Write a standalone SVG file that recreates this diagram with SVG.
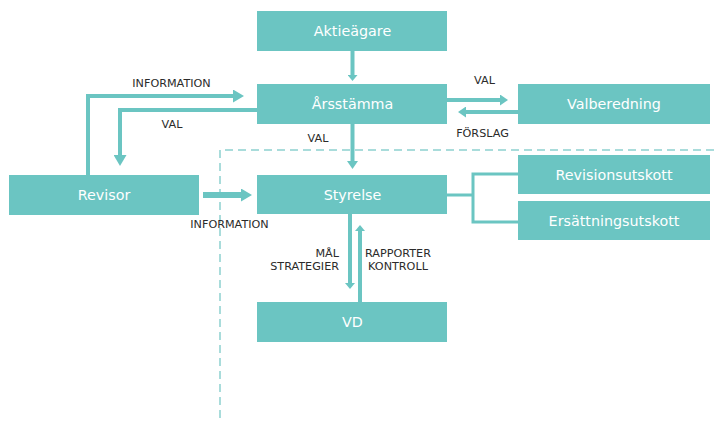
<svg xmlns="http://www.w3.org/2000/svg" width="714" height="421" viewBox="0 0 714 421">
<style>
.box{fill:#6bc5c2;}
.bt{font-family:"DejaVu Sans","Liberation Sans",sans-serif;font-size:14.3px;fill:#ffffff;text-anchor:middle;}
.lb{font-family:"DejaVu Sans","Liberation Sans",sans-serif;font-size:11.2px;fill:#2b2b2b;}
.c{fill:none;stroke:#6bc5c2;stroke-linejoin:miter;}
.dash{fill:none;stroke:#a9dcdb;stroke-width:2;stroke-dasharray:8 5;}
</style>
<defs>
<marker id="s" viewBox="0 0 6 10" refX="0" refY="5" markerWidth="6" markerHeight="10" markerUnits="userSpaceOnUse" orient="auto"><path d="M0,0 L6,5 L0,10 Z" fill="#6bc5c2"/></marker>
<marker id="m" viewBox="0 0 8 11" refX="0" refY="5.5" markerWidth="8" markerHeight="11" markerUnits="userSpaceOnUse" orient="auto"><path d="M0,0 L8,5.5 L0,11 Z" fill="#6bc5c2"/></marker>
<marker id="l" viewBox="0 0 11 13" refX="0" refY="6.5" markerWidth="11" markerHeight="13" markerUnits="userSpaceOnUse" orient="auto"><path d="M0,0 L11,6.5 L0,13 Z" fill="#6bc5c2"/></marker>
</defs>
<rect width="714" height="421" fill="#ffffff"/>
<path class="dash" d="M714,150 H220 V418"/>
<g id="connectors">
<path class="c" stroke-width="4" d="M352.5,51 V75" marker-end="url(#s)"/>
<path class="c" stroke-width="4" d="M88,175 V96 H233" marker-end="url(#l)"/>
<path class="c" stroke-width="4" d="M258,110 H120 V155" marker-end="url(#l)"/>
<path class="c" stroke-width="4" d="M352.5,124 V161" marker-end="url(#m)"/>
<path class="c" stroke-width="6" d="M203,195 H241" marker-end="url(#l)"/>
<path class="c" stroke-width="4" d="M447,100 H500" marker-end="url(#m)"/>
<path class="c" stroke-width="4" d="M518,112 H466" marker-end="url(#m)"/>
<path class="c" stroke-width="3" d="M447,195 H473 M518,174 H473 V222 H518"/>
<path class="c" stroke-width="4" d="M350,214 V283" marker-end="url(#s)"/>
<path class="c" stroke-width="4" d="M360,302 V231" marker-end="url(#s)"/>
<text class="lb" x="171.5" y="87" text-anchor="middle">INFORMATION</text>
<text class="lb" x="172" y="128" text-anchor="middle">VAL</text>
<text class="lb" x="318" y="142" text-anchor="middle">VAL</text>
<text class="lb" x="229.5" y="228" text-anchor="middle">INFORMATION</text>
<text class="lb" x="484.5" y="84" text-anchor="middle">VAL</text>
<text class="lb" x="482.5" y="137" text-anchor="middle">FÖRSLAG</text>
<text class="lb" x="339" y="257" text-anchor="end">MÅL</text>
<text class="lb" x="339" y="270" text-anchor="end">STRATEGIER</text>
<text class="lb" x="398" y="257" text-anchor="middle">RAPPORTER</text>
<text class="lb" x="398" y="270" text-anchor="middle">KONTROLL</text>
</g>
<g id="aktieagare"><rect class="box" x="257" y="11" width="190" height="40"/><text class="bt" x="352.5" y="36">Aktieägare</text></g>
<g id="arsstamma"><rect class="box" x="257" y="84" width="190" height="40"/><text class="bt" x="352.5" y="109">Årsstämma</text></g>
<g id="styrelse"><rect class="box" x="257" y="175" width="190" height="39"/><text class="bt" x="352.5" y="199.5">Styrelse</text></g>
<g id="vd"><rect class="box" x="257" y="302" width="190" height="40"/><text class="bt" x="352.5" y="327">VD</text></g>
<g id="revisor"><rect class="box" x="9" y="175" width="190" height="40"/><text class="bt" x="104" y="200">Revisor</text></g>
<g id="valberedning"><rect class="box" x="518" y="84" width="192" height="40"/><text class="bt" x="614" y="109">Valberedning</text></g>
<g id="revisionsutskott"><rect class="box" x="518" y="155" width="192" height="39"/><text class="bt" x="614" y="179.5">Revisionsutskott</text></g>
<g id="ersattningsutskott"><rect class="box" x="518" y="201" width="192" height="39"/><text class="bt" x="614" y="225.5">Ersättningsutskott</text></g>
</svg>
